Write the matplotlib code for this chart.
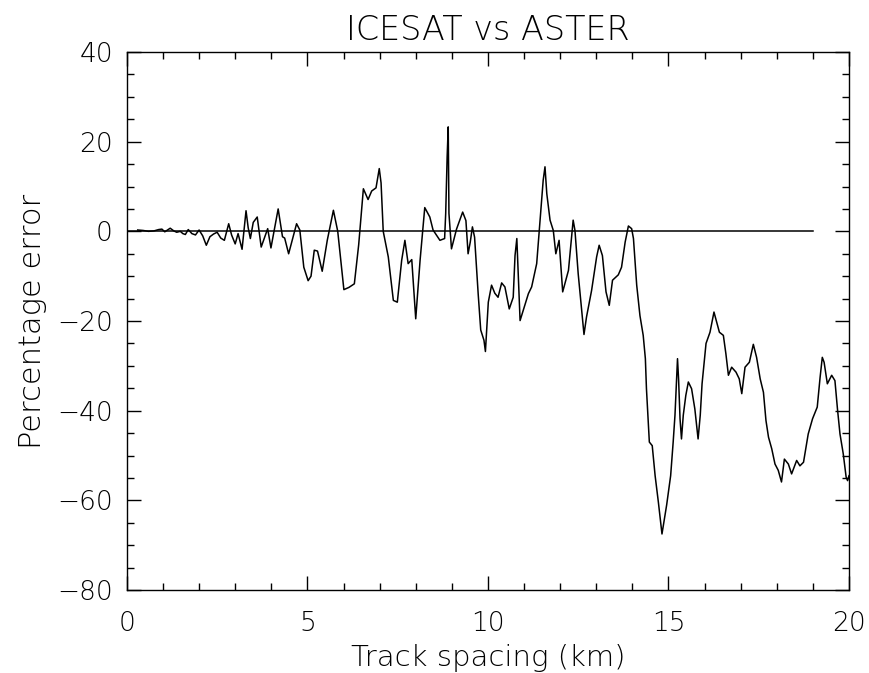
import matplotlib
matplotlib.use("Agg")
import matplotlib.pyplot as plt
from matplotlib.ticker import MultipleLocator

# Track spacing (km)
spacing_km = [
    0.30, 0.45, 0.60, 0.75, 0.88, 0.97, 1.05, 1.20, 1.30, 1.38, 1.48, 1.55, 1.62, 1.70,
    1.80, 1.90, 2.00, 2.10, 2.20, 2.30, 2.40, 2.50, 2.60, 2.70, 2.82, 2.90, 3.00, 3.08,
    3.19, 3.30, 3.36, 3.42, 3.50, 3.61, 3.72, 3.90, 3.99, 4.19, 4.31, 4.37, 4.48, 4.70,
    4.79, 4.90, 5.02, 5.10, 5.19, 5.28, 5.41, 5.55, 5.72, 5.84, 6.01, 6.15, 6.30, 6.42,
    6.55, 6.68, 6.78, 6.90, 6.99, 7.04, 7.10, 7.24, 7.38, 7.49, 7.61, 7.70, 7.79, 7.89,
    8.00, 8.12, 8.25, 8.39, 8.48, 8.67, 8.80, 8.83, 8.87, 8.90, 8.92, 8.99, 9.13, 9.30,
    9.39, 9.45, 9.51, 9.57, 9.63, 9.73, 9.80, 9.89, 9.93, 10.01, 10.10, 10.19, 10.28,
    10.38, 10.47, 10.59, 10.70, 10.75, 10.80, 10.82, 10.89, 11.03, 11.12, 11.21, 11.35,
    11.44, 11.53, 11.58, 11.63, 11.72, 11.81, 11.88, 11.97, 12.07, 12.23, 12.29, 12.36,
    12.41, 12.50, 12.66, 12.73, 12.87, 13.01, 13.08, 13.17, 13.27, 13.36, 13.45, 13.61,
    13.70, 13.80, 13.89, 13.98, 14.03, 14.12, 14.21, 14.30, 14.36, 14.39, 14.47, 14.55,
    14.63, 14.72, 14.82, 14.95, 15.06, 15.13, 15.18, 15.25, 15.28, 15.32, 15.36, 15.41,
    15.48, 15.55, 15.64, 15.73, 15.82, 15.88, 15.93, 16.04, 16.15, 16.26, 16.41, 16.52,
    16.59, 16.66, 16.75, 16.87, 16.96, 17.03, 17.12, 17.24, 17.35, 17.44, 17.54, 17.63,
    17.70, 17.77, 17.86, 17.95, 18.04, 18.13, 18.21, 18.32, 18.41, 18.55, 18.64, 18.74,
    18.87, 18.99, 19.12, 19.20, 19.26, 19.31, 19.40, 19.52, 19.61, 19.68, 19.75, 19.84,
    19.92, 19.96, 20.00,
]

# Percentage error
percent_error = [
    0.3, 0.2, 0.0, 0.1, 0.4, 0.5, -0.1, 0.7, 0.1, -0.2, 0.0, -0.5, -0.7, 0.4,
    -0.5, -0.8, 0.3, -1.0, -3.1, -1.2, -0.6, -0.2, -1.5, -2.0, 1.7, -0.8, -2.8, -0.5,
    -4.0, 4.6, 0.8, -1.6, 2.0, 3.2, -3.5, 0.6, -3.7, 5.0, -1.2, -1.5, -5.0, 1.7,
    0.3, -8.0, -11.0, -10.0, -4.2, -4.4, -8.9, -2.0, 4.7, 0.0, -13.0, -12.5, -11.7, -3.0,
    9.5, 7.1, 9.0, 9.7, 14.0, 10.8, 0.0, -5.7, -15.4, -15.8, -6.5, -2.0, -7.2, -6.3,
    -19.5, -6.5, 5.3, 3.2, 0.3, -2.0, -1.6, 4.0, 16.6, 23.3, 4.0, -3.9, 0.5, 4.3,
    2.4, -5.0, -2.4, 1.0, -1.3, -14.0, -22.0, -24.3, -26.8, -15.8, -12.0, -13.8, -14.7,
    -11.5, -12.4, -17.3, -14.7, -5.4, -1.6, -5.8, -19.9, -16.2, -13.9, -12.4, -7.2,
    2.1, 11.4, 14.4, 8.4, 2.5, 0.2, -5.0, -2.0, -13.5, -8.7, -3.5, 2.5,
    0.2, -9.5, -23.0, -19.1, -13.2, -5.7, -3.1, -5.4, -13.5, -16.5, -10.9, -9.7,
    -8.0, -2.4, 1.2, 0.6, -1.6, -12.0, -18.8, -23.2, -28.4, -35.1, -47.0, -47.8,
    -54.5, -60.4, -67.5, -61.0, -54.5, -47.0, -41.0, -28.4, -33.0, -41.8, -46.3, -41.0,
    -36.6, -33.6, -35.1, -39.6, -46.3, -41.0, -34.0, -25.0, -22.5, -18.0, -22.5, -23.2,
    -27.3, -32.1, -30.3, -31.4, -32.9, -36.2, -30.3, -29.2, -25.2, -28.1, -32.9, -35.9,
    -42.2, -45.9, -48.5, -51.9, -53.3, -55.9, -50.8, -51.9, -54.1, -51.1, -52.3, -51.5,
    -45.2, -41.8, -39.2, -32.5, -28.1, -29.2, -34.0, -32.1, -33.3, -39.6, -45.2, -49.6,
    -54.8, -55.6, -54.5,
]

zero_line_x = [0.0, 19.0]
zero_line_y = [0.0, 0.0]

plt.rcParams['font.family'] = ['DejaVu Sans']
plt.rcParams['font.weight'] = 'light'

fig = plt.figure(figsize=(8.69, 6.73), dpi=100)
ax = fig.add_axes([0.146, 0.1233, 0.977 - 0.146, 0.9227 - 0.1233])

ax.plot(spacing_km, percent_error, color='black', lw=1.1)
ax.plot(zero_line_x, zero_line_y, color='black', lw=1.1)

ax.set_xlim(0, 20)
ax.set_ylim(-80, 40)
ax.xaxis.set_major_locator(MultipleLocator(5))
ax.xaxis.set_minor_locator(MultipleLocator(1))
ax.yaxis.set_major_locator(MultipleLocator(20))
ax.yaxis.set_minor_locator(MultipleLocator(5))
ax.tick_params(which='both', direction='in', top=True, right=True, width=1.0)
ax.tick_params(which='major', length=10, labelsize=19)
ax.tick_params(axis='x', which='major', pad=15)
ax.tick_params(axis='y', which='major', pad=10)
ax.tick_params(which='minor', length=5)
for lbl in ax.get_xticklabels() + ax.get_yticklabels():
    lbl.set_fontweight('light')
for s in ax.spines.values():
    s.set_linewidth(1.0)

ax.set_title('ICESAT vs ASTER', fontsize=24, pad=9, fontweight='light')
ax.set_xlabel('Track spacing (km)', fontsize=21, labelpad=6, fontweight='light')
ax.set_ylabel('Percentage error', fontsize=22, labelpad=7, fontweight='light')

fig.savefig('out.png', dpi=100)
